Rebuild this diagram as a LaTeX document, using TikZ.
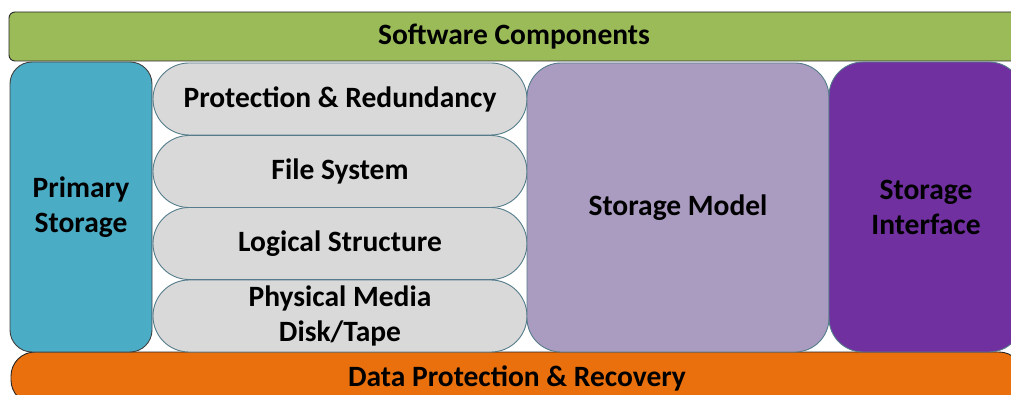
\documentclass[tikz,border=0pt]{standalone}
\usepackage{fontspec}
\setmainfont{Carlito}
\definecolor{barGreen}{HTML}{9BBB59}
\definecolor{primBlue}{HTML}{4BACC6}
\definecolor{layerGray}{HTML}{D9D9D9}
\definecolor{modelLav}{HTML}{AA9BC0}
\definecolor{ifacePurple}{HTML}{7030A0}
\definecolor{barOrange}{HTML}{EA700D}
\definecolor{edgeSlate}{HTML}{557C8A}
\begin{document}
\begin{tikzpicture}[x=1pt,y=-1pt,
  block/.style={draw, line width=0.9pt, inner sep=0pt, outer sep=0pt,
    align=center, text=black,
    font=\bfseries\fontsize{29.5}{35}\selectfont},
  bar/.style={block, draw=black!85, rounded corners=6pt},
  layer/.style={block, fill=layerGray, draw=edgeSlate,
    minimum width=374pt, minimum height=72pt, rounded corners=36pt}]
\useasboundingbox (0,0) rectangle (1011,395);
\clip (0,0) rectangle (1011,395);

% top and bottom bars
\node[bar, fill=barGreen, minimum width=1010pt, minimum height=49pt]
  (sw) at (514,36.5) {Software Components};
\node[block, fill=barOrange, draw=black!85, rounded corners=24pt,
  minimum width=1012pt, minimum height=52pt]
  (dp) at (517,378) {Data Protection \& Recovery};

% left column
\node[block, fill=primBlue, draw=black!75, rounded corners=22pt,
  minimum width=142pt, minimum height=290pt]
  (prim) at (81,207) {Primary\\Storage};

% stacked layers
\node[layer] (prot) at (340,99)  {Protection \& Redundancy};
\node[layer] (fs)   at (340,171.5) {File System};
\node[layer] (log)  at (340,243.5) {Logical Structure};
\node[layer] (phys) at (340,316) {Physical Media\\Disk/Tape};

% right columns
\node[block, fill=modelLav, draw=edgeSlate, rounded corners=34pt,
  minimum width=302pt, minimum height=289pt]
  (model) at (678,207.5) {Storage Model};
\node[block, fill=ifacePurple, draw=edgeSlate, rounded corners=34pt,
  minimum width=194pt, minimum height=290pt]
  (iface) at (926,207) {Storage\\Interface};
\end{tikzpicture}
\end{document}
